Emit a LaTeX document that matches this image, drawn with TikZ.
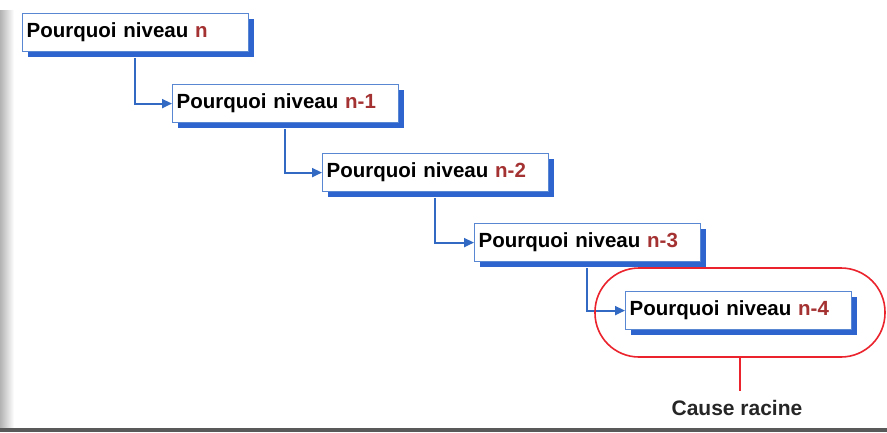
\documentclass[tikz,border=0pt]{standalone}
\usepackage{fontspec}
\setmainfont{Liberation Sans}
\usetikzlibrary{arrows.meta,shadings}
\definecolor{boxblue}{RGB}{90,135,210}
\definecolor{shadowblue}{RGB}{45,100,205}
\definecolor{arrowblue}{RGB}{50,105,195}
\definecolor{nred}{RGB}{165,50,50}
\definecolor{ringred}{RGB}{235,35,45}
\tikzset{
  whybox/.style={draw=boxblue, line width=1.2pt, fill=white, anchor=north west,
    minimum width=226pt, minimum height=38pt, text width=218pt, align=left,
    inner sep=3pt, font=\fontsize{20.5}{23}\selectfont\bfseries},
  link/.style={draw=arrowblue, line width=2pt, -{Triangle[length=10pt,width=9pt]}},
  ring/.style={draw=ringred, line width=1.6pt, rounded corners=44pt,
    minimum width=290pt, minimum height=89pt},
  lbl/.style={font=\fontsize{21}{24}\selectfont\bfseries, text=black!85}
}
\newcommand{\lvl}[1]{\textcolor{nred}{#1}}
\begin{document}
\begin{tikzpicture}[x=1pt,y=-1pt]
\useasboundingbox (0,0) rectangle (887,432);
\fill[white] (0,0) rectangle (887,432);
% left gray bar and bottom line
\shade[left color=black!30, right color=white] (0,10) rectangle (14,428);
\fill[black!65] (0,428) rectangle (887,432);
% shadows
\foreach \x/\y in {22/13,172/84,322/153,474/223,625/291}{
  \fill[shadowblue] (\x+6,\y+6) rectangle (\x+232,\y+44);
}
% boxes
\node[whybox] (b1) at (22,13) {Pourquoi niveau \lvl{n}};
\node[whybox] (b2) at (172,84) {Pourquoi niveau \lvl{n-1}};
\node[whybox] (b3) at (322,153) {Pourquoi niveau \lvl{n-2}};
\node[whybox] (b4) at (474,223) {Pourquoi niveau \lvl{n-3}};
\node[whybox] (b5) at (625,291) {Pourquoi niveau \lvl{n-4}};
% connectors
\coordinate (c1) at ([xshift=113pt]b1.south west);
\coordinate (c2) at ([xshift=113pt]b2.south west);
\coordinate (c3) at ([xshift=113pt]b3.south west);
\coordinate (c4) at ([xshift=113pt]b4.south west);
\draw[link] ([yshift=-6pt]c1) |- (b2.west);
\draw[link] ([yshift=-6pt]c2) |- (b3.west);
\draw[link] ([yshift=-6pt]c3) |- (b4.west);
\draw[link] ([yshift=-6pt]c4) |- (b5.west);
% root cause ring
\node[ring] (root) at (740,312.5) {};
\node[lbl] (cause) at (737,408) {Cause racine};
\draw[draw=ringred, line width=1.6pt] (root.south) -- ++(0,33);
\end{tikzpicture}
\end{document}
